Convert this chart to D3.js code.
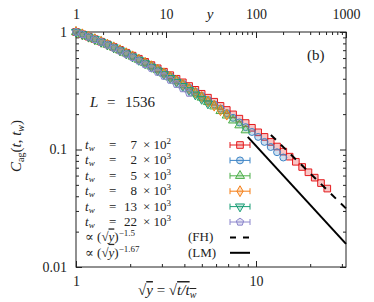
<!DOCTYPE html>
<html>
<head>
<meta charset="utf-8">
<script src="https://cdn.jsdelivr.net/npm/d3@7"></script>
<style>
body { margin: 0; background: #fff; }
svg text { font-family: "Liberation Serif", "DejaVu Serif", serif; fill: #222; }
.axis line { stroke: #222; }
.axis path { display: none; }
</style>
</head>
<body>
<div id="chart"></div>
<script>
// sqrt(y) = sqrt(t/t_w) sample points shared by all runs
var sqrtY = [1.000, 1.084, 1.174, 1.272, 1.379, 1.494, 1.619, 1.755, 1.902, 2.061,
             2.234, 2.421, 2.623, 2.843, 3.081, 3.339, 3.618, 3.921, 4.249, 4.604,
             4.989, 5.407, 5.859, 6.350, 6.881, 7.457, 8.081, 8.757, 9.490, 10.28,
             11.15, 12.07, 13.09, 14.18, 15.37, 16.65, 18.05, 19.56, 21.19, 22.97, 24.89];

// C_ag(t, t_w) for each waiting time
var c700   = [1.000, 0.956, 0.912, 0.869, 0.827, 0.786, 0.745, 0.705, 0.666, 0.629,
              0.592, 0.557, 0.523, 0.491, 0.459, 0.429, 0.400, 0.373, 0.347, 0.322,
              0.298, 0.276, 0.255, 0.235, 0.217, 0.199, 0.183, 0.168, 0.153, 0.140,
              0.128, 0.116, 0.106, 0.0959, 0.0869, 0.0786, 0.0710, 0.0640, 0.0576, 0.0518, 0.0465];
var c2000  = [1.000, 0.956, 0.912, 0.869, 0.826, 0.783, 0.742, 0.702, 0.662, 0.623,
              0.586, 0.550, 0.516, 0.482, 0.450, 0.419, 0.390, 0.362, 0.335, 0.310,
              0.286, 0.264, 0.242, 0.223, 0.204, 0.186, 0.170, 0.155, 0.141, 0.128,
              0.116, 0.105, 0.0948, 0.0855];
var c5000  = [1.000, 0.956, 0.912, 0.868, 0.825, 0.782, 0.740, 0.699, 0.659, 0.619,
              0.581, 0.545, 0.510, 0.475, 0.443, 0.411, 0.382, 0.353, 0.326, 0.301,
              0.277, 0.254, 0.233, 0.213, 0.195, 0.177, 0.161, 0.146];
var c8000  = [1.000, 0.956, 0.912, 0.868, 0.825, 0.782, 0.741, 0.700, 0.660, 0.621,
              0.583, 0.547, 0.512, 0.478, 0.445, 0.414, 0.384, 0.356, 0.329, 0.304,
              0.280, 0.257, 0.236, 0.216, 0.198];
var c13000 = [1.000, 0.956, 0.911, 0.868, 0.824, 0.781, 0.738, 0.696, 0.656, 0.616,
              0.577, 0.540, 0.504, 0.469, 0.436, 0.405, 0.375, 0.346, 0.319, 0.293,
              0.269, 0.246];
var c22000 = [1.000, 0.955, 0.911, 0.866, 0.822, 0.777, 0.733, 0.691, 0.648, 0.608,
              0.568, 0.530, 0.492, 0.456, 0.422, 0.390, 0.359, 0.330, 0.302];

var twMantissa = ["7", "2", "5", "8", "13", "22"];
var twExponent = ["2", "3", "3", "3", "3", "3"];
var seriesColors = ["#e41a1c", "#3d85c6", "#4daf4a", "#f57f17", "#1b9e77", "#8c86cc"];

// power laws drawn as guides
var fhExponent = -1.5,  fhAmplitude = 5.6,  fhStart = 12.1;
var lmExponent = -1.67, lmAmplitude = 5.03, lmStart = 9.0;

var xTicks = [1, 10];
var xMinor = [2, 3, 4, 5, 6, 7, 8, 9, 20, 30];
var topTicks = [1, 10, 100, 1000];
var topMinor = [2, 3, 4, 5, 6, 7, 8, 9, 20, 30, 40, 50, 60, 70, 80, 90, 200, 300, 400, 500, 600, 700, 800, 900];
var yTicks = [0.01, 0.1, 1];
var yMinor = [0.02, 0.03, 0.04, 0.05, 0.06, 0.07, 0.08, 0.09, 0.2, 0.3, 0.4, 0.5, 0.6, 0.7, 0.8, 0.9];

var pentagon = {
    draw: function(ctx, size) {
        var r = Math.sqrt(size / 2.378);
        for (var i = 0; i < 5; i++) {
            var a = -Math.PI / 2 + i * 2 * Math.PI / 5;
            if (i === 0) ctx.moveTo(r * Math.cos(a), r * Math.sin(a));
            else ctx.lineTo(r * Math.cos(a), r * Math.sin(a));
        }
        ctx.closePath();
    }
};

var symbols = [
    {type: d3.symbolSquare, size: 44, rot: 0},
    {type: d3.symbolCircle, size: 38, rot: 0},
    {type: d3.symbolTriangle, size: 36, rot: 0},
    {type: d3.symbolDiamond, size: 34, rot: 0},
    {type: d3.symbolTriangle, size: 36, rot: 180},
    {type: pentagon, size: 36, rot: 0}
];

var series = [c700, c2000, c5000, c8000, c13000, c22000].map(function(vals, i) {
    return vals.map(function(c, k) { return {x: sqrtY[k], y: c}; });
});

var margin = {top: 32, right: 28, bottom: 35, left: 76};
var width = 374 - margin.left - margin.right;
var height = 302 - margin.top - margin.bottom;

var x = d3.scaleLog().domain([1, Math.sqrt(1000)]).range([0, width]);
var xTop = d3.scaleLog().domain([1, 1000]).range([0, width]);
var y = d3.scaleLog().domain([0.01, 1]).range([height, 0]);

var svg = d3.select("#chart").append("svg")
    .attr("width", 374)
    .attr("height", 302);

var g = svg.append("g").attr("transform", "translate(" + margin.left + "," + margin.top + ")");

// axes: major + minor ticks on all four sides, pointing inward
g.append("g").attr("class", "axis")
    .attr("transform", "translate(0," + height + ")")
    .call(d3.axisBottom(x).tickValues(xTicks).tickSize(-6).tickPadding(9).tickFormat(d3.format("d")));
g.append("g").attr("class", "axis")
    .attr("transform", "translate(0," + height + ")")
    .call(d3.axisBottom(x).tickValues(xMinor).tickSize(-3).tickFormat(""));
g.append("g").attr("class", "axis")
    .call(d3.axisTop(xTop).tickValues(topTicks).tickSize(-6).tickPadding(13).tickFormat(d3.format("d")));
g.append("g").attr("class", "axis")
    .call(d3.axisTop(xTop).tickValues(topMinor).tickSize(-3).tickFormat(""));
g.append("g").attr("class", "axis")
    .call(d3.axisLeft(y).tickValues(yTicks).tickSize(-6).tickPadding(9).tickFormat(function(d) { return String(d); }));
g.append("g").attr("class", "axis")
    .call(d3.axisLeft(y).tickValues(yMinor).tickSize(-3).tickFormat(""));
g.append("g").attr("class", "axis")
    .attr("transform", "translate(" + width + ",0)")
    .call(d3.axisRight(y).tickValues(yTicks).tickSize(-6).tickFormat(""));
g.append("g").attr("class", "axis")
    .attr("transform", "translate(" + width + ",0)")
    .call(d3.axisRight(y).tickValues(yMinor).tickSize(-3).tickFormat(""));

g.selectAll(".axis text").style("font-size", "14px").attr("fill", "#222");

g.append("rect")
    .attr("width", width).attr("height", height)
    .attr("fill", "none").attr("stroke", "#222").attr("stroke-width", 1);

// data
var plot = g.append("g");
series.forEach(function(pts, i) {
    var sym = d3.symbol().type(symbols[i].type).size(symbols[i].size);
    plot.append("g").selectAll("path")
        .data(pts)
        .enter().append("path")
        .attr("transform", function(d) {
            return "translate(" + x(d.x) + "," + y(d.y) + ") rotate(" + symbols[i].rot + ")";
        })
        .attr("d", sym)
        .attr("fill", seriesColors[i])
        .attr("fill-opacity", 0.25)
        .attr("stroke", seriesColors[i])
        .attr("stroke-width", 1);
});

// power-law guides
var xMax = x.domain()[1];
var guide = d3.line().x(function(d) { return x(d[0]); }).y(function(d) { return y(d[1]); });
g.append("path")
    .attr("d", guide([fhStart, xMax].map(function(v) { return [v, fhAmplitude * Math.pow(v, fhExponent)]; })))
    .attr("fill", "none").attr("stroke", "#000").attr("stroke-width", 2)
    .attr("stroke-dasharray", "7,7");
g.append("path")
    .attr("d", guide([lmStart, xMax].map(function(v) { return [v, lmAmplitude * Math.pow(v, lmExponent)]; })))
    .attr("fill", "none").attr("stroke", "#000").attr("stroke-width", 2);

// legend
var legend = g.append("g").attr("class", "legend");
var rowH = 15.4, row0 = 113, keyX = 164;

twMantissa.forEach(function(m, i) {
    var cy = row0 + i * rowH;
    var t = legend.append("text").attr("y", cy + 4).style("font-size", "13px");
    t.append("tspan").attr("x", 9).style("font-style", "italic").text("t");
    t.append("tspan").attr("dy", 2).style("font-size", "9px").style("font-style", "italic").text("w");
    t.append("tspan").attr("x", 33).attr("dy", -2).text("=");
    t.append("tspan").attr("x", 61).attr("text-anchor", "end").text(m);
    legend.append("text").attr("x", 67).attr("y", cy + 4).style("font-size", "13px")
        .text("\u00d7 10")
        .append("tspan").attr("dy", -5).style("font-size", "9px").text(twExponent[i]);

    var c = seriesColors[i];
    legend.append("line").attr("x1", keyX - 10).attr("x2", keyX + 10).attr("y1", cy).attr("y2", cy)
        .attr("stroke", c).attr("stroke-width", 1);
    [keyX - 10, keyX + 10].forEach(function(cx) {
        legend.append("line").attr("x1", cx).attr("x2", cx).attr("y1", cy - 3).attr("y2", cy + 3)
            .attr("stroke", c).attr("stroke-width", 1);
    });
    legend.append("path")
        .attr("transform", "translate(" + keyX + "," + cy + ") rotate(" + symbols[i].rot + ")")
        .attr("d", d3.symbol().type(symbols[i].type).size(symbols[i].size))
        .attr("fill", c).attr("fill-opacity", 0.25).attr("stroke", c);
});

var fits = [{exp: "\u22121.5", name: "(FH)", dash: "6,7"}, {exp: "\u22121.67", name: "(LM)", dash: null}];
fits.forEach(function(f, j) {
    var cy = row0 + (6 + j) * rowH;
    var t = legend.append("text").attr("y", cy + 4).style("font-size", "13px");
    t.append("tspan").attr("x", 9).text("\u221d (\u221a");
    t.append("tspan").style("font-style", "italic").style("text-decoration", "overline").text("y");
    t.append("tspan").text(")");
    t.append("tspan").attr("dy", -5).style("font-size", "9px").text(f.exp);
    t.append("tspan").attr("x", 112).attr("dy", 5).text(f.name);
    legend.append("line").attr("x1", keyX - 10).attr("x2", keyX + 10).attr("y1", cy).attr("y2", cy)
        .attr("stroke", "#000").attr("stroke-width", 2)
        .attr("stroke-dasharray", f.dash);
});

// annotations
var lab = g.append("text").attr("y", 75).style("font-size", "15px");
lab.append("tspan").attr("x", 14).style("font-style", "italic").text("L");
lab.append("tspan").attr("x", 31).text("=");
lab.append("tspan").attr("x", 49).text("1536");

g.append("text").attr("x", 231).attr("y", 28).style("font-size", "15px").text("(b)");

g.append("text").attr("x", 134).attr("y", -13).attr("text-anchor", "middle")
    .style("font-size", "15px").style("font-style", "italic").text("y");

// y title
var yt = svg.append("text")
    .attr("transform", "translate(21,146) rotate(-90)")
    .attr("text-anchor", "middle")
    .style("font-size", "15px");
yt.append("tspan").style("font-style", "italic").text("C");
yt.append("tspan").attr("dy", 3).style("font-size", "10px").text("ag");
yt.append("tspan").attr("dy", -3).text("(");
yt.append("tspan").style("font-style", "italic").text("t");
yt.append("tspan").text(", ");
yt.append("tspan").style("font-style", "italic").text("t");
yt.append("tspan").attr("dy", 3).style("font-size", "10px").style("font-style", "italic").text("w");
yt.append("tspan").attr("dy", -3).text(")");

// x title
var xt = svg.append("text").attr("y", 295).style("font-size", "15px");
xt.append("tspan").attr("x", 138).text("\u221a");
xt.append("tspan").style("font-style", "italic").style("text-decoration", "overline").text("y");
xt.append("tspan").text(" = \u221a");
xt.append("tspan").style("font-style", "italic").style("text-decoration", "overline").text("t/t");
xt.append("tspan").attr("dy", 3).style("font-size", "10px").style("font-style", "italic").style("text-decoration", "overline").text("w");
</script>
</body>
</html>
